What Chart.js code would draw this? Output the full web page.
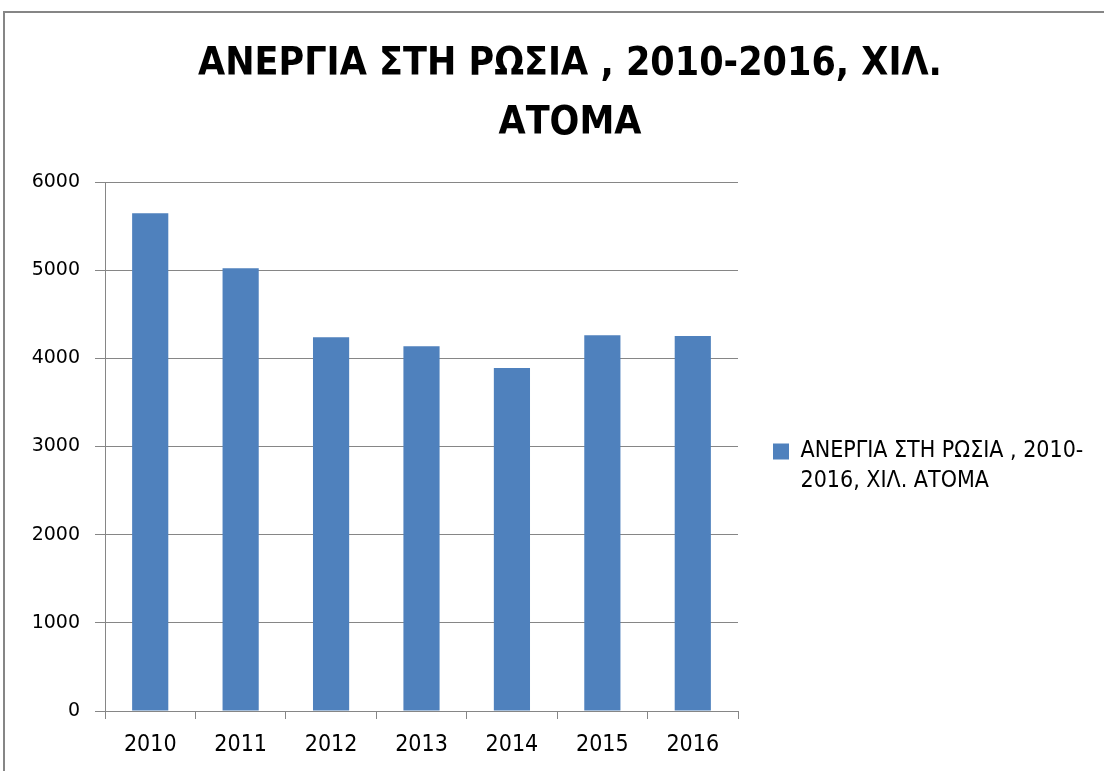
<!DOCTYPE html>
<html lang="el">
<head>
    <meta charset="UTF-8">
    <title>ΑΝΕΡΓΙΑ ΣΤΗ ΡΩΣΙΑ</title>
    <script src="https://cdn.jsdelivr.net/npm/chart.js"></script>
    <style>
        html, body { margin: 0; padding: 0; background: #fff; overflow: hidden; }
        .frame { position: absolute; left: 3px; top: 11px; border-left: 2px solid #868686; border-top: 2px solid #868686; }
        canvas { display: block; }
    </style>
</head>
<body>
    <div class="frame">
        <canvas id="chart" width="1130" height="914"></canvas>
    </div>

    <script>
        // values (thousand persons)
        const years = ["2010", "2011", "2012", "2013", "2014", "2015", "2016"];
        const unemployed = [5646, 5022, 4240, 4138, 3889, 4263, 4252];
        const seriesName = ["ΑΝΕΡΓΙΑ ΣΤΗ ΡΩΣΙΑ , 2010-", "2016, ΧΙΛ. ΑΤΟΜΑ"];
        const titleLines = ["ΑΝΕΡΓΙΑ ΣΤΗ ΡΩΣΙΑ , 2010-2016, ΧΙΛ.", "ΑΤΟΜΑ"];
        const yMin = 0, yMax = 6000, yStep = 1000;

        const gridColor = "#868686";
        const barColor = "#4F81BD";
        const condensed = "'DejaVu Sans Condensed', 'DejaVu Sans', sans-serif";

        // the legend column on the right is wider than chart.js allows by default
        // (half of half the width), so give it a fixed width after it fits itself
        const legendWidth = 397;
        const legendRoom = {
            id: "legendRoom",
            beforeLayout(chart) {
                const lg = chart.legend;
                if (lg && !lg.wideFit) {
                    const fit = lg.fit.bind(lg);
                    lg.fit = () => { fit(); lg.width = legendWidth; };
                    lg.wideFit = true;
                }
            }
        };

        const ctx = document.getElementById("chart").getContext("2d");
        new Chart(ctx, {
            type: "bar",
            data: {
                labels: years,
                datasets: [{
                    label: seriesName.join(" "),
                    data: unemployed,
                    backgroundColor: barColor,
                    borderWidth: 0,
                    barPercentage: 0.4,
                    categoryPercentage: 1.0
                }]
            },
            plugins: [legendRoom],
            options: {
                responsive: false,
                animation: false,
                events: [],
                layout: { padding: 0 },
                plugins: {
                    title: {
                        display: true,
                        text: titleLines,
                        color: "#000",
                        font: { family: condensed, size: 39, weight: "bold", lineHeight: "59px" },
                        padding: { top: 22, bottom: 29 }
                    },
                    legend: {
                        position: "right",
                        labels: {
                            boxWidth: 16,
                            boxHeight: 16,
                            padding: 35,
                            color: "#000",
                            font: { family: condensed, size: 23, lineHeight: "30px" },
                            generateLabels: chart => [{
                                text: seriesName,
                                fillStyle: barColor,
                                strokeStyle: barColor,
                                lineWidth: 0,
                                datasetIndex: 0
                            }]
                        }
                    },
                    tooltip: { enabled: false }
                },
                scales: {
                    x: {
                        afterFit: s => { s.height = 216; },
                        grid: { drawOnChartArea: false, drawTicks: true, tickLength: 8, color: gridColor, offset: true },
                        border: { color: gridColor, width: 1 },
                        ticks: { color: "#000", padding: 12, font: { family: condensed, size: 23 } }
                    },
                    y: {
                        min: yMin,
                        max: yMax,
                        afterFit: s => { s.width = 100; },
                        grid: { color: gridColor, tickLength: 10 },
                        border: { color: gridColor, width: 1 },
                        ticks: {
                            stepSize: yStep,
                            color: "#000",
                            padding: 15,
                            font: { family: "'DejaVu Sans', sans-serif", size: 19 },
                            callback: v => String(v)
                        }
                    }
                }
            }
        });
    </script>
</body>
</html>
